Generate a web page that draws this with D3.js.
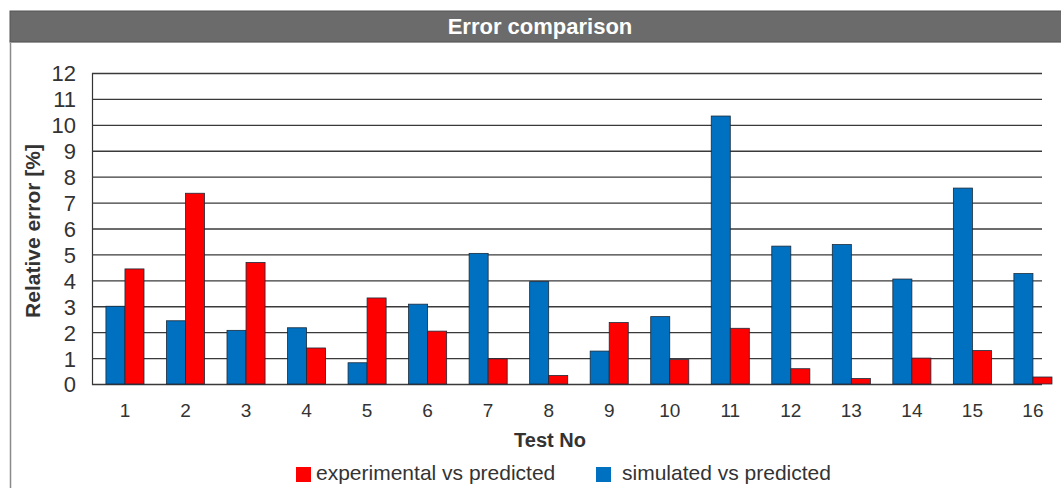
<!DOCTYPE html>
<html>
<head>
<meta charset="utf-8">
<script src="https://cdn.jsdelivr.net/npm/d3@7"></script>
<style>
  html, body { margin: 0; padding: 0; background: #fff; }
  svg { display: block; }
  text { font-family: "Liberation Sans", Arial, sans-serif; }
</style>
</head>
<body>
<svg id="chart" width="1061" height="488"></svg>
<script>
const tests = ["1","2","3","4","5","6","7","8","9","10","11","12","13","14","15","16"];
const simulated = [3.0, 2.44, 2.07, 2.17, 0.82, 3.08, 5.04, 3.95, 1.27, 2.6, 10.34, 5.32, 5.38, 4.05, 7.56, 4.26];
const experimental = [4.44, 7.36, 4.69, 1.39, 3.32, 2.04, 0.97, 0.33, 2.37, 0.94, 2.15, 0.59, 0.21, 1.0, 1.29, 0.27];
const yTicks = [0,1,2,3,4,5,6,7,8,9,10,11,12];
const seriesKeys = ["sim", "exp"];
const seriesNames = { exp: "experimental vs predicted", sim: "simulated vs predicted" };
const seriesColors = { exp: "#ff0000", sim: "#0070c0" };

const svg = d3.select("#chart");

// frame + title bar
svg.append("line").attr("x1", 10.5).attr("x2", 10.5).attr("y1", 40).attr("y2", 488)
  .attr("stroke", "#8a8a8a").attr("stroke-width", 1.5);
svg.append("rect").attr("x", 10).attr("y", 11).attr("width", 1055).attr("height", 31)
  .attr("fill", "#6b6b6b").attr("stroke", "#555").attr("stroke-width", 1);
svg.append("line").attr("x1", 10).attr("x2", 1061).attr("y1", 42.5).attr("y2", 42.5)
  .attr("stroke", "#9a9a9a").attr("stroke-width", 1);
svg.append("text").attr("x", 540).attr("y", 34).attr("text-anchor", "middle")
  .attr("fill", "#fff").attr("font-size", 22).attr("font-weight", "bold")
  .text("Error comparison");

const plotLeft = 92, plotRight = 1042, plotTop = 73, plotBottom = 384;
const y = d3.scaleLinear().domain([0, 12]).range([plotBottom, plotTop]);
const x = d3.scaleBand().domain(tests).range([94.7, 1063.2]).paddingInner(0).paddingOuter(0);
const x1 = d3.scaleBand().domain(seriesKeys).range([0, x.bandwidth()]).paddingInner(0).paddingOuter(0.59);

// grid lines
const yAxis = d3.axisLeft(y).tickValues(yTicks).tickSize(-(plotRight - plotLeft)).tickPadding(16);
const gy = svg.append("g").attr("transform", `translate(${plotLeft},0)`).call(yAxis);
gy.select(".domain").attr("stroke", "#333").attr("stroke-width", 1.2);
gy.selectAll(".tick line").attr("stroke", "#3a3a3a").attr("stroke-width", 1.3);
gy.selectAll(".tick text").attr("font-size", 22).attr("fill", "#333")
  .attr("font-family", "Liberation Sans, Arial, sans-serif").attr("dy", "0.36em");

// bars
const groups = svg.append("g").selectAll("g").data(tests).join("g")
  .attr("transform", d => `translate(${x(d)},0)`);
groups.selectAll("rect").data((d, i) => [
    { key: "sim", v: simulated[i] },
    { key: "exp", v: experimental[i] }
  ]).join("rect")
  .attr("x", d => x1(d.key))
  .attr("width", x1.bandwidth())
  .attr("y", d => y(d.v))
  .attr("height", d => y(0) - y(d.v))
  .attr("fill", d => seriesColors[d.key])
  .attr("stroke", "#1a2a3a").attr("stroke-width", 0.8);

// x axis labels
const xAxis = d3.axisBottom(x).tickSize(0).tickPadding(0);
const gx = svg.append("g").attr("transform", `translate(0,${plotBottom})`).call(xAxis);
gx.select(".domain").remove();
gx.selectAll(".tick text").attr("font-size", 19).attr("fill", "#333")
  .attr("font-family", "Liberation Sans, Arial, sans-serif")
  .attr("dy", null).attr("y", 33);

// axis titles
svg.append("text").attr("x", 550).attr("y", 447).attr("text-anchor", "middle")
  .attr("font-size", 20).attr("font-weight", "bold").attr("fill", "#333").text("Test No");
svg.append("text").attr("transform", "translate(40,231) rotate(-90)").attr("text-anchor", "middle")
  .attr("font-size", 21).attr("font-weight", "bold").attr("fill", "#333").text("Relative error [%]");

// legend
const legendItems = [
  { key: "exp", sx: 296, tx: 316 },
  { key: "sim", sx: 596, tx: 622 }
];
const lg = svg.append("g");
lg.selectAll("rect").data(legendItems).join("rect")
  .attr("x", d => d.sx).attr("y", 467).attr("width", 15).attr("height", 15)
  .attr("fill", d => seriesColors[d.key]);
lg.selectAll("text").data(legendItems).join("text")
  .attr("x", d => d.tx).attr("y", 480).attr("font-size", 21).attr("fill", "#333")
  .text(d => seriesNames[d.key]);
</script>
</body>
</html>
